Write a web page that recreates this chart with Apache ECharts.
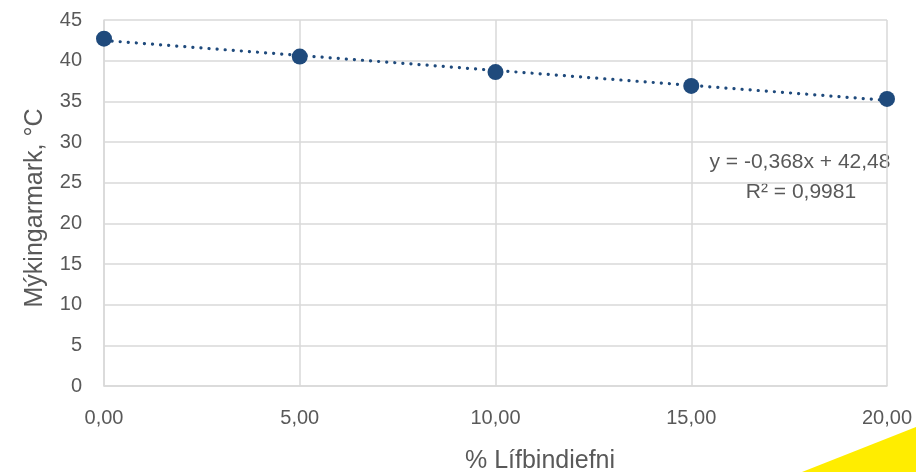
<!DOCTYPE html>
<html>
<head>
<meta charset="utf-8">
<script src="https://cdn.jsdelivr.net/npm/echarts@6/dist/echarts.min.js"></script>
<style>
  html, body { margin: 0; padding: 0; background: #fff; }
  #chart { width: 916px; height: 472px; }
</style>
</head>
<body>
<div id="chart"></div>
<script>
// gögn lesin af myndinni
var lifbindiefni = [0, 5, 10, 15, 20];
var mykingarmark = [42.7, 40.5, 38.6, 36.9, 35.3];
var yTicks = [0, 5, 10, 15, 20, 25, 30, 35, 40, 45];
var trendSlope = -0.368;
var trendIntercept = 42.48;
var trendText = ['y = -0,368x + 42,48', 'R² = 0,9981'];

var textColor = '#595959';
var gridColor = '#d9d9d9';
var markColor = '#1f4a7c';
var font = 'Liberation Sans, Arial, sans-serif';

var points = lifbindiefni.map(function (x, i) { return [x, mykingarmark[i]]; });
var xFirst = lifbindiefni[0], xLast = lifbindiefni[lifbindiefni.length - 1];
var trend = [
	[xFirst, trendSlope * xFirst + trendIntercept],
	[xLast, trendSlope * xLast + trendIntercept]
];

var chart = echarts.init(document.getElementById('chart'), null, { renderer: 'canvas' });

var options =
{
	animation: false,
	grid: { left: 104, right: 29, top: 20, bottom: 86, containLabel: false },
	xAxis:
	{
		type: 'value',
		min: 0, max: 20, interval: 5,
		axisLine: { show: true, lineStyle: { color: gridColor, width: 1.5 } },
		axisTick: { show: false },
		splitLine: { show: true, lineStyle: { color: gridColor, width: 1.5 } },
		axisLabel:
		{
			color: textColor, fontSize: 20, fontFamily: font, margin: 22,
			formatter: function (v) { return v.toFixed(2).replace('.', ','); }
		}
	},
	yAxis:
	{
		type: 'value',
		min: yTicks[0], max: yTicks[yTicks.length - 1], interval: 5,
		name: 'Mýkingarmark, °C',
		nameLocation: 'middle',
		nameGap: 56,
		nameTextStyle: { color: textColor, fontSize: 25, fontFamily: font, padding: [0, 10, 0, 0] },
		axisLine: { show: true, lineStyle: { color: gridColor, width: 1.5 } },
		axisTick: { show: false },
		splitLine: { show: true, lineStyle: { color: gridColor, width: 1.5 } },
		axisLabel: { color: textColor, fontSize: 20, fontFamily: font, margin: 22 }
	},
	series:
	[
		{
			name: 'trend',
			type: 'line',
			data: trend,
			symbol: 'none',
			silent: true,
			z: 2,
			lineStyle: { color: markColor, width: 3.2, type: [0.1, 8], cap: 'round' }
		},
		{
			name: 'Mýkingarmark',
			type: 'scatter',
			data: points,
			symbol: 'circle',
			symbolSize: 16,
			z: 3,
			itemStyle: { color: markColor, opacity: 1 }
		}
	],
	graphic:
	[
		{
			type: 'text', x: 540, y: 461,
			style: { text: '% Lífbindiefni', fill: textColor, fontSize: 25, fontFamily: font, align: 'center', verticalAlign: 'middle' }
		},
		{
			type: 'text', x: 800, y: 162,
			style: { text: trendText[0], fill: textColor, fontSize: 21, fontFamily: font, align: 'center', verticalAlign: 'middle' }
		},
		{
			type: 'text', x: 801, y: 192,
			style: { text: trendText[1], fill: textColor, fontSize: 21, fontFamily: font, align: 'center', verticalAlign: 'middle' }
		},
		{
			type: 'polygon',
			shape: { points: [[802, 472], [916, 427], [916, 472]] },
			style: { fill: '#ffed00' },
			z: 10
		}
	]
};

chart.setOption(options);
</script>
</body>
</html>
